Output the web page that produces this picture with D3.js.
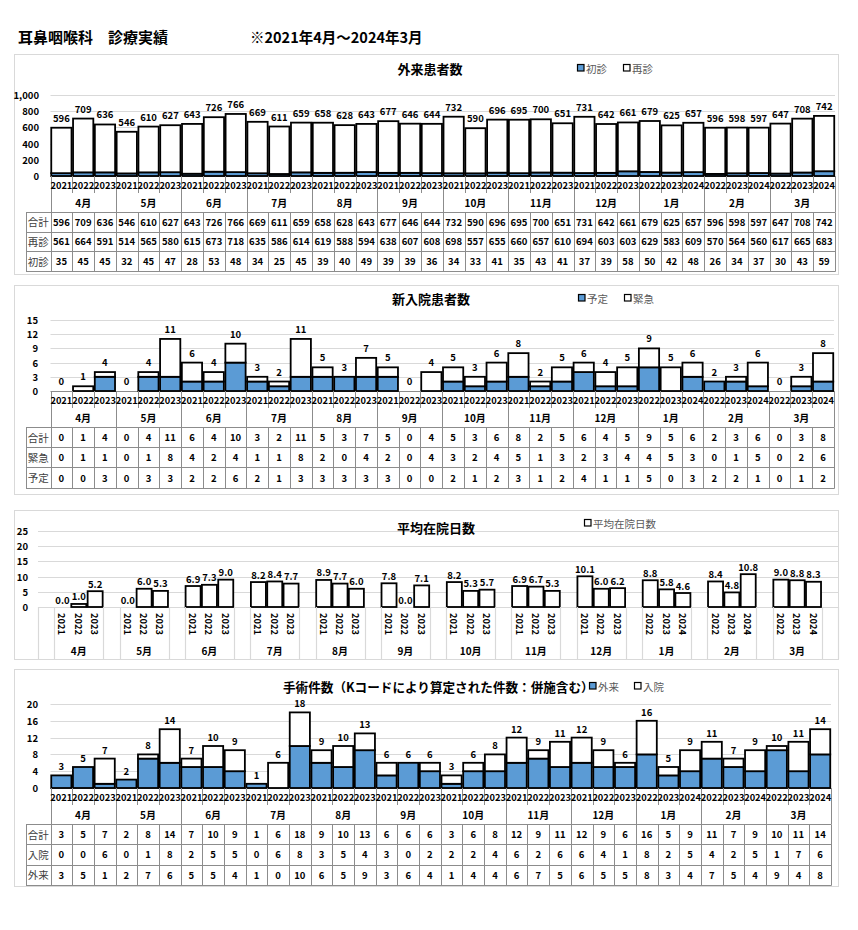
<!DOCTYPE html>
<html><head><meta charset="utf-8">
<script src="https://cdn.jsdelivr.net/npm/d3@7"></script>
<style>
body{margin:0;background:#fff;}
svg{font-family:"Noto Sans CJK JP","Noto Sans",sans-serif;display:block;}
</style></head><body>
<svg id="c" width="858" height="930"></svg>
<script>
// ---------- data ----------
const months = ["4月","5月","6月","7月","8月","9月","10月","11月","12月","1月","2月","3月"];
const yearsAprDec = ["2021","2022","2023"];
const yearsJanMar = ["2022","2023","2024"];

// 外来患者数
const outTotal   = [596,709,636,546,610,627,643,726,766,669,611,659,658,628,643,677,646,644,732,590,696,695,700,651,731,642,661,679,625,657,596,598,597,647,708,742];
const outRevisit = [561,664,591,514,565,580,615,673,718,635,586,614,619,588,594,638,607,608,698,557,655,660,657,610,694,603,603,629,583,609,570,564,560,617,665,683];
const outFirst   = [35,45,45,32,45,47,28,53,48,34,25,45,39,40,49,39,39,36,34,33,41,35,43,41,37,39,58,50,42,48,26,34,37,30,43,59];

// 新入院患者数
const admTotal     = [0,1,4,0,4,11,6,4,10,3,2,11,5,3,7,5,0,4,5,3,6,8,2,5,6,4,5,9,5,6,2,3,6,0,3,8];
const admEmergency = [0,1,1,0,1,8,4,2,4,1,1,8,2,0,4,2,0,4,3,2,4,5,1,3,2,3,4,4,5,3,0,1,5,0,2,6];
const admPlanned   = [0,0,3,0,3,3,2,2,6,2,1,3,3,3,3,3,0,0,2,1,2,3,1,2,4,1,1,5,0,3,2,2,1,0,1,2];

// 平均在院日数
const stayDays = [0.0,1.0,5.2, 0.0,6.0,5.3, 6.9,7.3,9.0, 8.2,8.4,7.7, 8.9,7.7,6.0, 7.8,0.0,7.1, 8.2,5.3,5.7, 6.9,6.7,5.3, 10.1,6.0,6.2, 8.8,5.8,4.6, 8.4,4.8,10.8, 9.0,8.8,8.3];

// 手術件数
const surgTotal      = [3,5,7,2,8,14,7,10,9,1,6,18,9,10,13,6,6,6,3,6,8,12,9,11,12,9,6,16,5,9,11,7,9,10,11,14];
const surgInpatient  = [0,0,6,0,1,8,2,5,5,0,6,8,3,5,4,3,0,2,2,2,4,6,2,6,6,4,1,8,2,5,4,2,5,1,7,6];
const surgOutpatient = [3,5,1,2,7,6,5,5,4,1,0,10,6,5,9,3,6,4,1,4,4,6,7,5,6,5,5,8,3,4,7,5,4,9,4,8];

const yearLabels = months.flatMap((m,i)=> i<9 ? yearsAprDec : yearsJanMar);

// ---------- drawing ----------
const svg = d3.select("#c");
const BLUE = "#5b9bd5";
const GRID = "#d9d9d9";
const TBL = "#8c8c8c";

svg.append("rect").attr("width",858).attr("height",930).attr("fill","#fff");
svg.append("text").attr("x",18).attr("y",43).attr("font-size",15).attr("font-weight","bold").text("耳鼻咽喉科　診療実績");
svg.append("text").attr("x",250).attr("y",43).attr("font-size",14.5).attr("font-weight","bold").text("※2021年4月～2024年3月");

function legendItem(g, x, y, fill, label){
  g.append("rect").attr("x",x+0.5).attr("y",y-3.5).attr("width",6.5).attr("height",6.5)
    .attr("fill",fill).attr("stroke","#000").attr("stroke-width",1.2);
  g.append("text").attr("x",x+9).attr("y",y).attr("dominant-baseline","central")
    .attr("font-size",10.5).attr("fill","#595959").text(label);
}

function stackedPanel(o){
  const g = svg.append("g");
  g.append("rect").attr("x",14.5).attr("y",o.boxTop+0.5).attr("width",824).attr("height",o.boxH)
    .attr("fill","#fff").attr("stroke",GRID);
  const n = o.total.length;
  const xb = d3.scaleBand().domain(d3.range(n)).range([o.x0,o.x1]);
  const y = d3.scaleLinear().domain([0,o.yMax]).range([o.y0,o.yTop]);
  const ticks = d3.range(0,o.yMax+1e-9,o.yStep);
  g.selectAll(".grid").data(ticks.filter(t=>t>0)).join("line")
    .attr("x1",o.x0).attr("x2",o.x1).attr("y1",d=>Math.round(y(d))+0.5).attr("y2",d=>Math.round(y(d))+0.5)
    .attr("stroke",GRID).attr("stroke-width",1.2);
  g.selectAll(".yl").data(ticks).join("text")
    .attr("x",o.yLabX).attr("y",d=>y(d)).attr("text-anchor","end").attr("dominant-baseline","central")
    .attr("font-size",9.5).attr("font-weight","bold").text(d=>o.yFmt(d));
  // legend
  legendItem(g, o.legX1, o.titleY, BLUE, o.legLabel1);
  legendItem(g, o.legX2, o.titleY, "#fff", o.legLabel2);
  // title
  g.append("text").attr("x",o.titleX).attr("y",o.titleY).attr("text-anchor",o.titleAnchor||"middle")
    .attr("dominant-baseline","central").attr("font-size",o.titleSize||13).attr("font-weight","bold").text(o.title);
  // axis baseline
  g.append("line").attr("x1",o.x0).attr("x2",o.x1).attr("y1",o.y0+0.5).attr("y2",o.y0+0.5).attr("stroke",TBL);
  // bars
  const bw = xb.bandwidth(), inset = bw*0.035;
  const idx = d3.range(n);
  g.selectAll(".bb").data(idx.filter(i=>o.bottom[i]>0)).join("rect")
    .attr("x",i=>xb(i)+inset).attr("width",bw-2*inset)
    .attr("y",i=>y(o.bottom[i])).attr("height",i=>y(0)-y(o.bottom[i]))
    .attr("fill",BLUE).attr("stroke","#000").attr("stroke-width",1.8);
  g.selectAll(".bt").data(idx.filter(i=>o.top[i]>0)).join("rect")
    .attr("x",i=>xb(i)+inset).attr("width",bw-2*inset)
    .attr("y",i=>y(o.bottom[i]+o.top[i])).attr("height",i=>y(o.bottom[i])-y(o.bottom[i]+o.top[i]))
    .attr("fill","#fff").attr("stroke","#000").attr("stroke-width",1.8);
  // data labels
  g.selectAll(".dl").data(idx).join("text")
    .attr("x",i=>xb(i)+bw/2).attr("y",i=>y(o.total[i])-o.labGap)
    .attr("text-anchor","middle").attr("font-size",9.5).attr("font-weight","bold").text(i=>o.total[i]);
  // category ticks
  const step = xb.step();
  g.selectAll(".tk").data(d3.range(n+1)).join("line")
    .attr("x1",i=>Math.round(o.x0+i*step)+0.5).attr("x2",i=>Math.round(o.x0+i*step)+0.5)
    .attr("y1",o.y0).attr("y2",i=> (i%3===0)? o.tableTop : o.y0+17)
    .attr("stroke",TBL).attr("stroke-width",1);
  g.selectAll(".yr").data(idx).join("text")
    .attr("x",i=>xb(i)+bw/2).attr("y",o.y0+8.5).attr("text-anchor","middle").attr("dominant-baseline","central")
    .attr("font-size",9.3).attr("font-weight","bold").text(i=>yearLabels[i]);
  g.selectAll(".mo").data(months).join("text")
    .attr("x",(d,m)=>xb(m*3)+1.5*step).attr("y",(o.y0+17+o.tableTop)/2).attr("text-anchor","middle")
    .attr("dominant-baseline","central").attr("font-size",10).attr("font-weight","bold").text(d=>d);
  // table
  const tl = 26;
  const rowsY = d3.range(4).map(r=>Math.round(o.tableTop+r*o.rowH)+0.5);
  g.selectAll(".th").data(rowsY).join("line").attr("x1",tl).attr("x2",o.x1+0.5).attr("y1",d=>d).attr("y2",d=>d).attr("stroke",TBL);
  g.selectAll(".tv").data(d3.range(n+1)).join("line")
    .attr("x1",i=>Math.round(o.x0+i*step)+0.5).attr("x2",i=>Math.round(o.x0+i*step)+0.5)
    .attr("y1",rowsY[0]).attr("y2",rowsY[3]).attr("stroke",TBL);
  g.append("line").attr("x1",tl+0.5).attr("x2",tl+0.5).attr("y1",rowsY[0]).attr("y2",rowsY[3]).attr("stroke",TBL);
  o.rows.forEach((row,r)=>{
    const cy = o.tableTop + (r+0.5)*o.rowH;
    g.append("text").attr("x",(tl+o.x0)/2).attr("y",cy).attr("text-anchor","middle").attr("dominant-baseline","central")
      .attr("font-size",10.5).attr("fill","#404040").text(row.label);
    g.selectAll(".tc"+r).data(row.values).join("text")
      .attr("x",(d,i)=>xb(i)+bw/2).attr("y",cy).attr("text-anchor","middle").attr("dominant-baseline","central")
      .attr("font-size",9.5).attr("font-weight","bold").text(d=>d);
  });
}

// Panel 1
stackedPanel({
  boxTop:54, boxH:220, x0:50.5, x1:835, y0:176, yTop:95, yMax:1000, yStep:200, yLabX:39,
  yFmt:d3.format(","), title:"外来患者数", titleX:430, titleY:68,
  legX1:577, legX2:623, legLabel1:"初診", legLabel2:"再診",
  total:outTotal, bottom:outFirst, top:outRevisit, labGap:6,
  tableTop:212, rowH:19.6,
  rows:[{label:"合計",values:outTotal},{label:"再診",values:outRevisit},{label:"初診",values:outFirst}]
});

// Panel 2
stackedPanel({
  boxTop:285, boxH:209, x0:50.5, x1:834, y0:391, yTop:320, yMax:15, yStep:3, yLabX:38,
  yFmt:d=>d, title:"新入院患者数", titleX:431, titleY:298,
  legX1:578, legX2:624, legLabel1:"予定", legLabel2:"緊急",
  total:admTotal, bottom:admPlanned, top:admEmergency, labGap:6,
  tableTop:427, rowH:20.2,
  rows:[{label:"合計",values:admTotal},{label:"緊急",values:admEmergency},{label:"予定",values:admPlanned}]
});

// Panel 4
stackedPanel({
  boxTop:669, boxH:217, x0:50.5, x1:831, y0:788, yTop:704, yMax:20, yStep:4, yLabX:38,
  yFmt:d=>d, title:"手術件数（Kコードにより算定された件数：併施含む）", titleX:283, titleAnchor:"start", titleY:686, titleSize:12.6,
  legX1:589, legX2:634, legLabel1:"外来", legLabel2:"入院",
  total:surgTotal, bottom:surgOutpatient, top:surgInpatient, labGap:5,
  tableTop:824, rowH:20.3,
  rows:[{label:"合計",values:surgTotal},{label:"入院",values:surgInpatient},{label:"外来",values:surgOutpatient}]
});

// Panel 3 : 平均在院日数
(function(){
  const g = svg.append("g");
  const boxTop=510, boxH=149, x0=38, x1=838, y0=607, yTop=531;
  g.append("rect").attr("x",14.5).attr("y",boxTop+0.5).attr("width",824).attr("height",boxH)
    .attr("fill","#fff").attr("stroke",GRID);
  const nSlots = months.length*4+1;
  const xs = d3.scaleBand().domain(d3.range(nSlots)).range([x0,x1]);
  const y = d3.scaleLinear().domain([0,25]).range([y0,yTop]);
  const ticks = d3.range(0,26,5);
  g.selectAll(".grid").data(ticks.filter(t=>t>0)).join("line")
    .attr("x1",x0).attr("x2",x1).attr("y1",d=>Math.round(y(d))+0.5).attr("y2",d=>Math.round(y(d))+0.5)
    .attr("stroke",GRID).attr("stroke-width",1.2);
  g.selectAll(".yl").data(ticks).join("text")
    .attr("x",28).attr("y",d=>y(d)).attr("text-anchor","end").attr("dominant-baseline","central")
    .attr("font-size",9.5).attr("font-weight","bold").text(d=>d);
  legendItem(g, 584, 523, "#fff", "平均在院日数");
  g.append("text").attr("x",436).attr("y",527).attr("text-anchor","middle").attr("dominant-baseline","central")
    .attr("font-size",13).attr("font-weight","bold").text("平均在院日数");
  g.append("line").attr("x1",x0).attr("x2",x1).attr("y1",y0+0.5).attr("y2",y0+0.5).attr("stroke",GRID);
  const slotOf = i => Math.floor(i/3)*4 + 1 + (i%3);
  const bw = xs.bandwidth(), inset = bw*0.04;
  const idx = d3.range(stayDays.length);
  g.selectAll(".b").data(idx.filter(i=>stayDays[i]>0)).join("rect")
    .attr("x",i=>xs(slotOf(i))+inset).attr("width",bw-2*inset)
    .attr("y",i=>y(stayDays[i])).attr("height",i=>y(0)-y(stayDays[i]))
    .attr("fill","#fff").attr("stroke","#000").attr("stroke-width",1.8);
  g.selectAll(".dl").data(idx).join("text")
    .attr("x",i=>xs(slotOf(i))+bw/2).attr("y",i=>y(stayDays[i])-3.5)
    .attr("text-anchor","middle").attr("font-size",9.5).attr("font-weight","bold").text(i=>d3.format(".1f")(stayDays[i]));
  // separators around blank slots
  const bounds = d3.range(months.length+1).flatMap(k=>[k*4, k*4+1]);
  g.selectAll(".sep").data(bounds).join("line")
    .attr("x1",b=>Math.round(x0+b*xs.step())+0.5).attr("x2",b=>Math.round(x0+b*xs.step())+0.5)
    .attr("y1",y0).attr("y2",boxTop+boxH).attr("stroke",GRID).attr("stroke-width",1.2);
  g.selectAll(".yr").data(idx).join("text")
    .attr("transform",i=>`translate(${xs(slotOf(i))+bw/2},613) rotate(90)`)
    .attr("dominant-baseline","central").attr("font-size",9.3).attr("font-weight","bold").text(i=>yearLabels[i]);
  g.selectAll(".mo").data(months).join("text")
    .attr("x",(d,m)=>xs(m*4+1)+1.5*xs.step()).attr("y",650).attr("text-anchor","middle").attr("dominant-baseline","central")
    .attr("font-size",10).attr("font-weight","bold").text(d=>d);
})();
</script>
</body></html>
